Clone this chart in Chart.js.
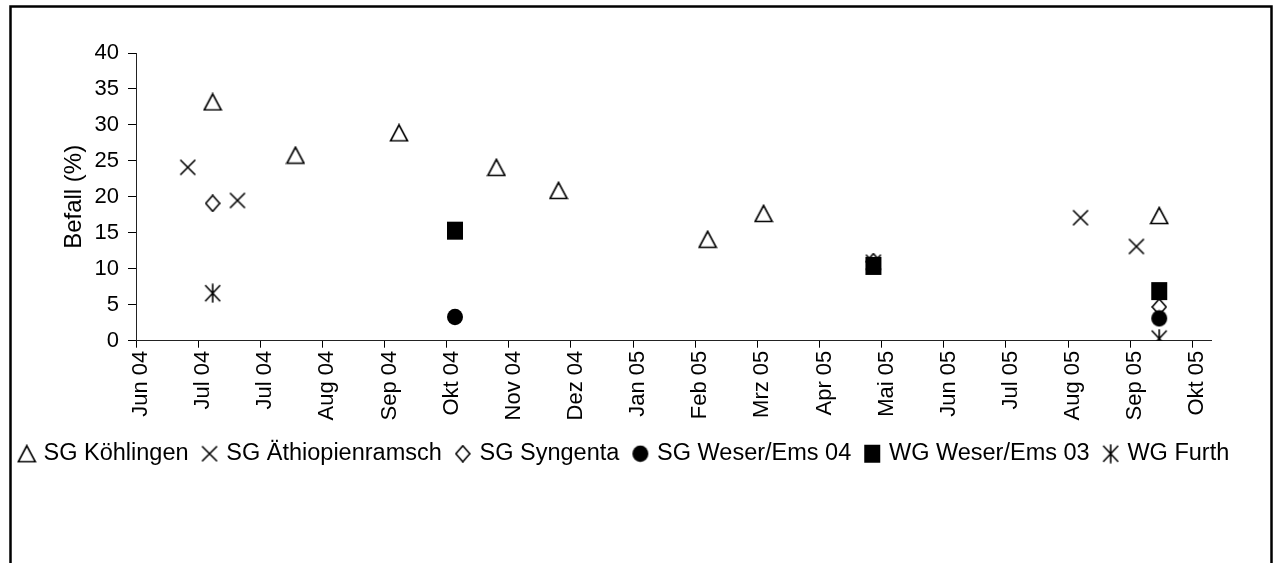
<!DOCTYPE html>
<html><head><meta charset="utf-8">
<script src="https://cdn.jsdelivr.net/npm/chart.js@4.4.0/dist/chart.umd.min.js"></script>
<style>html,body{margin:0;padding:0;background:#fff;} #wrap{width:1284px;height:563px;position:relative;}</style>
</head><body><div id="wrap"><canvas id="c" width="1284" height="563"></canvas></div>
<script>
// ---- data ----
const axisStart = '2004-06-01';
const tickStepDays = 30;
const axisEndDays = 519;
const tickLabels = ['Jun 04','Jul 04','Jul 04','Aug 04','Sep 04','Okt 04','Nov 04','Dez 04','Jan 05','Feb 05','Mrz 05','Apr 05','Mai 05','Jun 05','Jul 05','Aug 05','Sep 05','Okt 05'];
const yTicks = [0,5,10,15,20,25,30,35,40];
const seriesNames = ['SG Köhlingen','SG Äthiopienramsch','SG Syngenta','SG Weser/Ems 04','WG Weser/Ems 03','WG Furth'];

const koehlingenDates  = ['2004-07-08','2004-08-17','2004-10-06','2004-11-22','2004-12-22','2005-03-04','2005-03-31','2005-10-08'];
const koehlingenValues = [33.2, 25.8, 28.9, 24.1, 20.9, 14.1, 17.7, 17.4];
const aethiopienDates  = ['2004-06-26','2004-07-20','2005-05-23','2005-08-31','2005-09-27'];
const aethiopienValues = [24.1, 19.5, 10.9, 17.1, 13.1];
const syngentaDates    = ['2004-07-08','2005-05-23','2005-10-08'];
const syngentaValues   = [19.1, 11.0, 4.7];
const weserEms04Dates  = ['2004-11-02','2005-10-08'];
const weserEms04Values = [3.3, 3.1];
const weserEms03Dates  = ['2004-11-02','2005-05-23','2005-10-08'];
const weserEms03Values = [15.3, 10.4, 6.9];
const furthDates       = ['2004-07-08','2005-10-08'];
const furthValues      = [6.6, 0.3];

// ---- helpers ----
function dayNum(s){ return (Date.parse(s) - Date.parse(axisStart)) / 86400000; }
function pts(dates, vals){ return dates.map((d,i)=>({x: dayNum(d), y: vals[i]})); }
function mk(w,h,draw){
  const c=document.createElement('canvas'); c.width=w; c.height=h;
  const g=c.getContext('2d'); g.strokeStyle='#000'; g.fillStyle='#000'; g.lineWidth=1.6; g.lineJoin='miter';
  draw(g,w,h); return c;
}
const markers = [
  mk(20,19,g=>{g.beginPath();g.moveTo(10,1.5);g.lineTo(1.5,17.5);g.lineTo(18.5,17.5);g.closePath();g.stroke();}),
  mk(18,18,g=>{g.beginPath();g.moveTo(1.5,1.5);g.lineTo(16.5,16.5);g.moveTo(16.5,1.5);g.lineTo(1.5,16.5);g.stroke();}),
  mk(16,18,g=>{g.beginPath();g.moveTo(8,1);g.lineTo(15,9);g.lineTo(8,17);g.lineTo(1,9);g.closePath();g.stroke();}),
  mk(18,18,g=>{g.beginPath();g.ellipse(9,9,8,8.3,0,0,Math.PI*2);g.fill();}),
  mk(18,20,g=>{g.fillRect(1,1,16,18);}),
  mk(18,20,g=>{g.beginPath();g.moveTo(1.5,2);g.lineTo(16.5,18);g.moveTo(16.5,2);g.lineTo(1.5,18);g.moveTo(9,0.5);g.lineTo(9,19.5);g.stroke();})
];
const seriesData = [
  pts(koehlingenDates, koehlingenValues),
  pts(aethiopienDates, aethiopienValues),
  pts(syngentaDates, syngentaValues),
  pts(weserEms04Dates, weserEms04Values),
  pts(weserEms03Dates, weserEms03Values),
  pts(furthDates, furthValues)
];

const FONT = "'Liberation Sans', Arial, sans-serif";

const framePlugin = {
  id:'frame',
  beforeDraw(chart){ const c=chart.ctx; c.save(); c.fillStyle='#fff'; c.fillRect(0,0,chart.width,chart.height); c.restore(); },
  afterDraw(chart){ const c=chart.ctx; c.save(); c.strokeStyle='#000'; c.lineWidth=2.5; c.strokeRect(10.5,6.5,1261,620); c.restore(); }
};

new Chart(document.getElementById('c'), {
  type:'scatter',
  data:{
    datasets: seriesNames.map((n,i)=>({
      label:n, data:seriesData[i], pointStyle:markers[i], pointRadius:9, pointHoverRadius:9,
      showLine:false, order: seriesNames.length - i, borderColor:'#000', backgroundColor:'#000'
    }))
  },
  options:{
    responsive:false, animation:false, devicePixelRatio:1,
    layout:{ padding:{ left:0, top:53, right:33, bottom:87.5 } },
    plugins:{
      tooltip:{enabled:false},
      legend:{
        position:'bottom',
        labels:{ usePointStyle:true, pointStyleWidth:10, padding:16, color:'#000',
          font:{family:FONT, size:23.5}, sort:(a,b)=>a.datasetIndex-b.datasetIndex }
      }
    },
    scales:{
      x:{
        type:'linear', min:0, max:axisEndDays,
        afterBuildTicks(s){ s.ticks = tickLabels.map((_,i)=>({value:i*tickStepDays})); },
        afterFit(s){ s.height = 85.3; },
        ticks:{ autoSkip:false, maxRotation:90, minRotation:90, padding:3, labelOffset:5,
          color:'#000', font:{family:FONT, size:22},
          callback:(v)=>tickLabels[Math.round(v/tickStepDays)] },
        grid:{ drawOnChartArea:false, drawTicks:true, tickLength:7, color:'#000', lineWidth:1 },
        border:{ display:true, color:'#222', width:1 }
      },
      y:{
        min:0, max:40,
        afterBuildTicks(s){ s.ticks = yTicks.map(v=>({value:v})); },
        afterFit(s){ s.width = 136; },
        ticks:{ padding:9, color:'#000', font:{family:FONT, size:22} },
        grid:{ drawOnChartArea:false, drawTicks:true, tickLength:8, color:'#000', lineWidth:1 },
        border:{ display:true, color:'#222', width:1 },
        title:{ display:true, text:'Befall (%)', color:'#000', font:{family:FONT, size:24}, padding:{top:60, bottom:0} }
      },
      yRight:{
        position:'right', min:0, max:40, display:true,
        afterFit(s){ s.width = 40; },
        ticks:{ display:false }, grid:{ display:false, drawTicks:false }, border:{ display:false }
      }
    }
  },
  plugins:[framePlugin]
});
</script></body></html>
